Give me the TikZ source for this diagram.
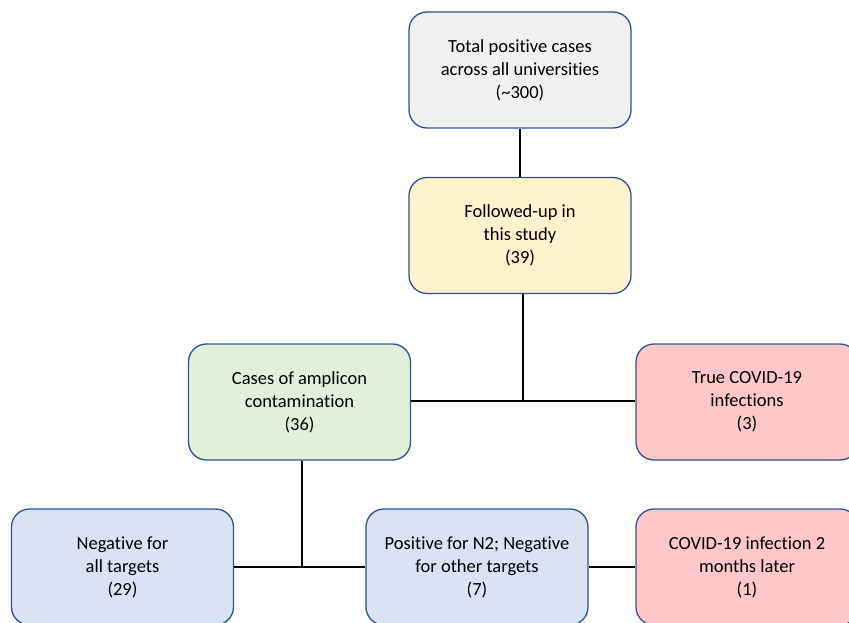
\documentclass[tikz,border=0pt]{standalone}
\usepackage{fontspec}
\setmainfont[Ligatures={NoCommon}]{Carlito}
\definecolor{bordc}{RGB}{47,82,143}
\definecolor{fgray}{RGB}{240,240,240}
\definecolor{fyellow}{RGB}{255,242,204}
\definecolor{fgreen}{RGB}{226,239,218}
\definecolor{fpink}{RGB}{255,199,199}
\definecolor{fblue}{RGB}{218,227,243}
\tikzset{
  box/.style={draw=bordc, line width=1.3pt, rounded corners=18pt, minimum width=222pt, minimum height=116pt,
    align=center, inner sep=0pt, font=\fontsize{18.5pt}{23pt}\selectfont, text=black},
  conn/.style={line width=1.3pt, black}
}
\begin{document}
\begin{tikzpicture}[x=1pt,y=-1pt]
\useasboundingbox (0,0) rectangle (849,623);
\clip (0,0) rectangle (849,623);
\node[box, fill=fgray] (total) at (520,70) {Total positive cases\\across all universities\\(\textasciitilde300)};
\node[box, fill=fyellow] (follow) at (520,235.5) {Followed-up in\\this study\\(39)};
\node[box, fill=fgreen] (amp) at (299.5,402) {Cases of amplicon\\contamination\\(36)};
\node[box, fill=fpink] (true) at (747,402) {True COVID-19\\infections\\(3)};
\node[box, fill=fblue] (neg) at (122.5,567) {Negative for\\all targets\\(29)};
\node[box, fill=fblue] (pos) at (477,567) {Positive for N2; Negative\\for other targets\\(7)};
\node[box, fill=fpink] (later) at (747,567) {COVID-19 infection 2\\months later\\(1)};
\coordinate (j1) at (523,401);
\coordinate (j2) at (302,567);
\draw[conn] (total.south) -- (total.south |- follow.north);
\draw[conn] (follow.south -| j1) -- (j1);
\draw[conn] (amp.east |- j1) -- (true.west |- j1);
\draw[conn] (amp.south -| j2) -- (j2);
\draw[conn] (neg.east |- j2) -- (pos.west |- j2);
\draw[conn] (pos.east |- j2) -- (later.west |- j2);
\end{tikzpicture}
\end{document}
